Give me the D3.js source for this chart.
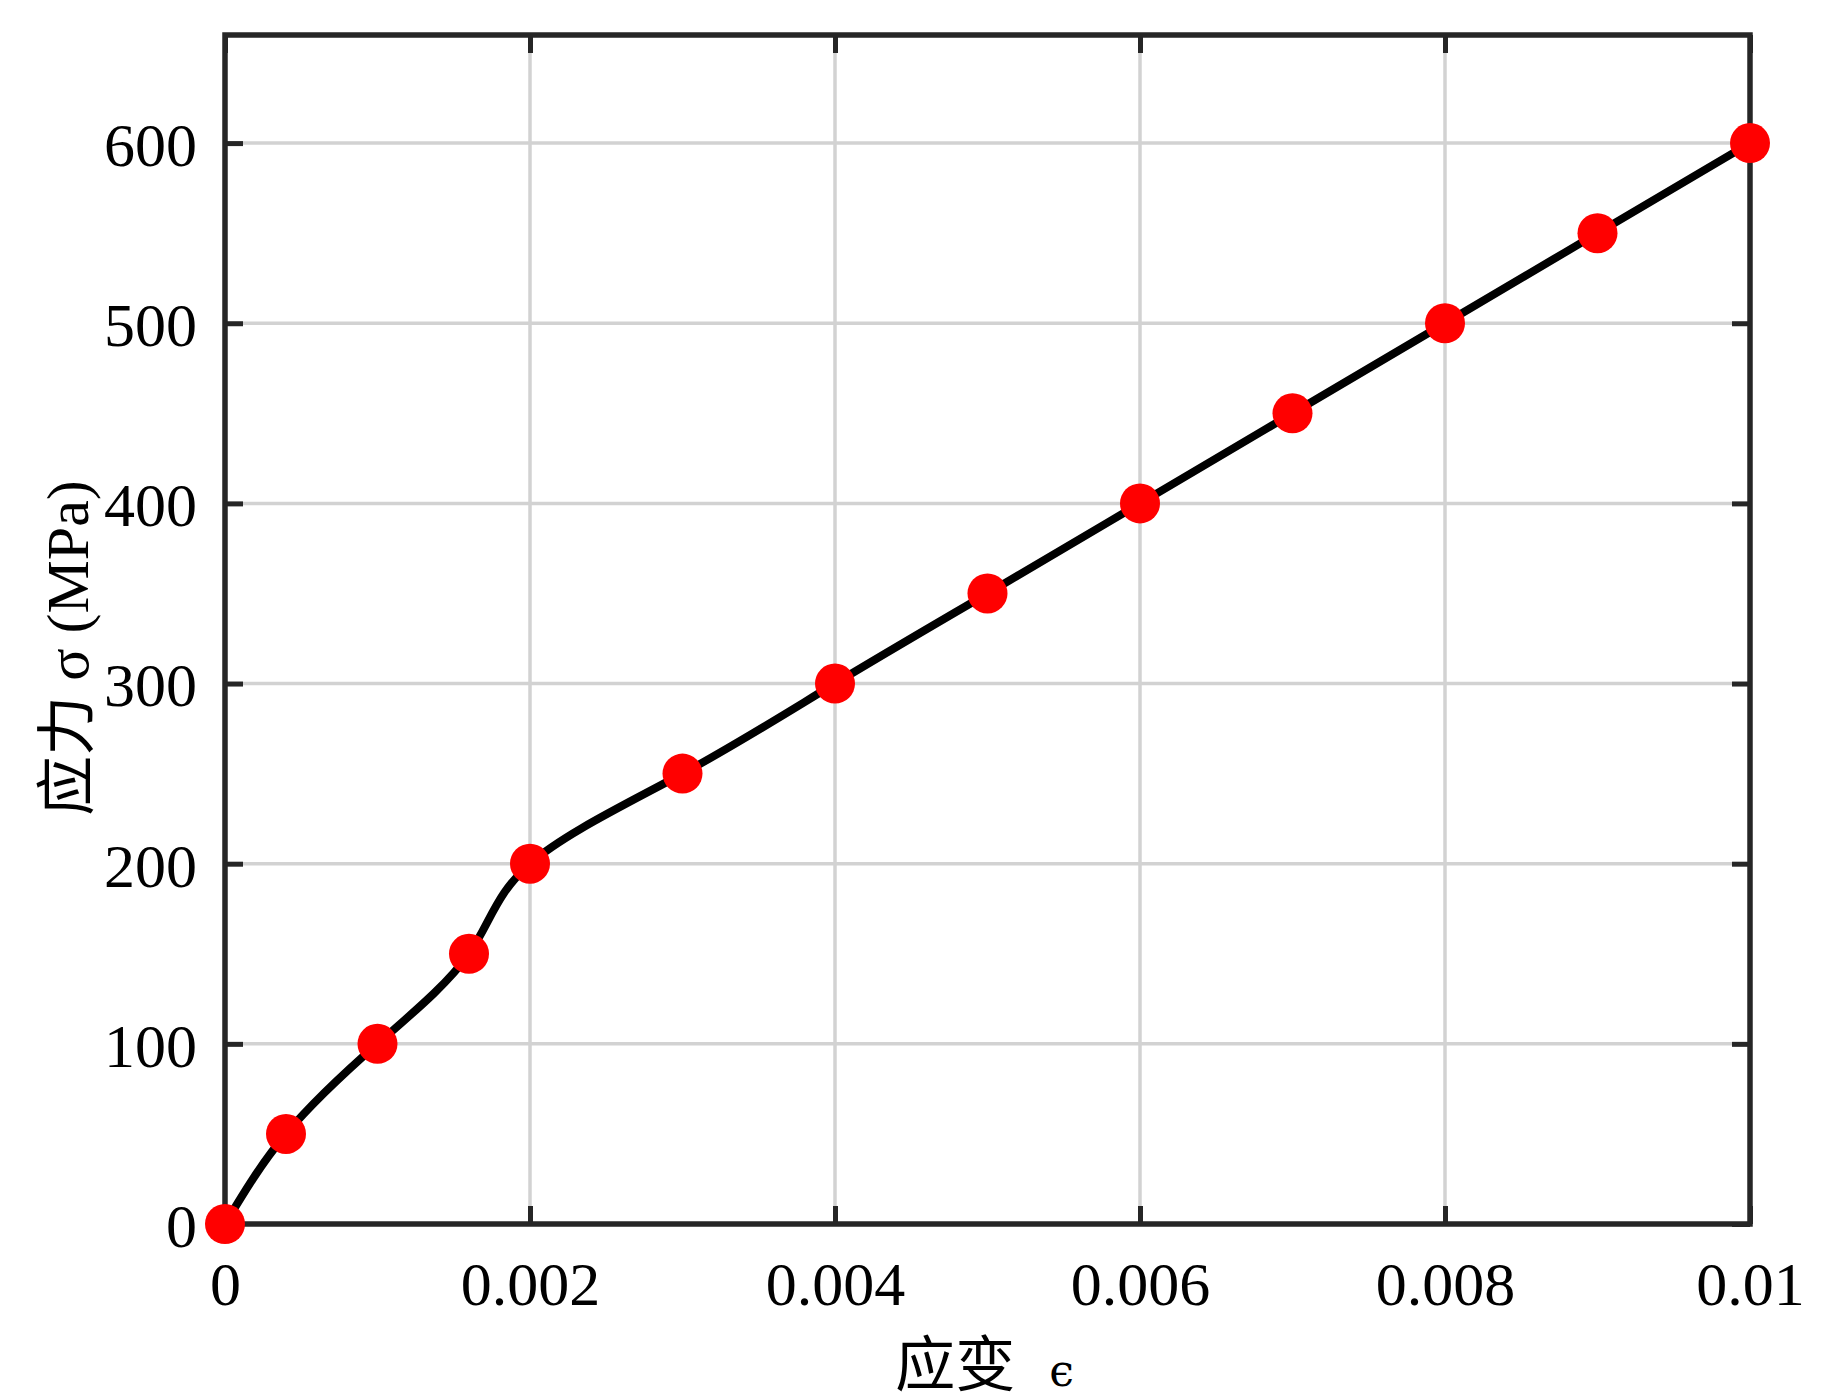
<!DOCTYPE html>
<html>
<head>
<meta charset="utf-8">
<script src="https://cdn.jsdelivr.net/npm/d3@7"></script>
<style>
  body { margin: 0; background: #fff; }
  text { font-family: "Liberation Serif", "Noto Sans CJK SC", serif; fill: #000; }
</style>
</head>
<body>
<script>
// stress-strain data
var strain = [0, 0.0004, 0.001, 0.0016, 0.002, 0.003, 0.004, 0.005, 0.006, 0.007, 0.008, 0.009, 0.01];
var stress = [0, 50, 100, 150, 200, 250, 300, 350, 400, 450, 500, 550, 600];

// axis ticks
var xTicks = [0, 0.002, 0.004, 0.006, 0.008, 0.01];
var xTickLabels = ["0", "0.002", "0.004", "0.006", "0.008", "0.01"];
var yTicks = [0, 100, 200, 300, 400, 500, 600];
var yTickLabels = ["0", "100", "200", "300", "400", "500", "600"];

// chart size (plot box edges)
var width = 1821;
var height = 1400;
var boxLeft = 225, boxRight = 1750, boxTop = 35, boxBottom = 1224;

var svg = d3.select("body")
            .append("svg")
            .attr("width", width)
            .attr("height", height);

var xScale = d3.scaleLinear()
               .domain([0, 0.01])
               .range([boxLeft, boxRight]);
var yScale = d3.scaleLinear()
               .domain([0, 660])
               .range([boxBottom, boxTop]);

// grid lines
svg.append("g")
   .selectAll("line")
   .data(xTicks.slice(1, -1))
   .enter()
   .append("line")
   .attr("x1", function(d) { return xScale(d); })
   .attr("x2", function(d) { return xScale(d); })
   .attr("y1", boxTop)
   .attr("y2", boxBottom)
   .attr("stroke", "#d2d2d2")
   .attr("stroke-width", 3.5);

svg.append("g")
   .selectAll("line")
   .data(yTicks.slice(1))
   .enter()
   .append("line")
   .attr("x1", boxLeft)
   .attr("x2", boxRight)
   .attr("y1", function(d) { return yScale(d); })
   .attr("y2", function(d) { return yScale(d); })
   .attr("stroke", "#d2d2d2")
   .attr("stroke-width", 3.5);

// axes with inward ticks, mirrored on top and right
function styleAxis(g) {
  g.selectAll(".domain").remove();
  g.selectAll(".tick line").attr("stroke", "#262626").attr("stroke-width", 5);
}

var xAxe = d3.axisBottom(xScale)
             .tickValues(xTicks)
             .tickSize(-18)
             .tickFormat(function(d, i) { return xTickLabels[i]; });
svg.append("g")
   .attr("transform", "translate(" + [0, boxBottom] + ")")
   .call(xAxe)
   .call(styleAxis)
   .selectAll("text")
   .attr("y", 81)
   .attr("dy", 0)
   .style("font-size", "62px");

svg.append("g")
   .attr("transform", "translate(" + [0, boxTop] + ")")
   .call(d3.axisTop(xScale).tickValues(xTicks).tickSize(-18).tickFormat(""))
   .call(styleAxis);

var yAxe = d3.axisLeft(yScale)
             .tickValues(yTicks)
             .tickSize(-18)
             .tickFormat(function(d, i) { return yTickLabels[i]; });
svg.append("g")
   .attr("transform", "translate(" + [boxLeft, 0] + ")")
   .call(yAxe)
   .call(styleAxis)
   .selectAll("text")
   .attr("x", -28)
   .attr("dy", "0.36em")
   .style("font-size", "62px");

svg.append("g")
   .attr("transform", "translate(" + [boxRight, 0] + ")")
   .call(d3.axisRight(yScale).tickValues(yTicks).tickSize(-18).tickFormat(""))
   .call(styleAxis);

// frame
svg.append("rect")
   .attr("x", boxLeft)
   .attr("y", boxTop)
   .attr("width", boxRight - boxLeft)
   .attr("height", boxBottom - boxTop)
   .attr("fill", "none")
   .attr("stroke", "#262626")
   .attr("stroke-width", 5.5);

// smooth curve
var points = strain.map(function(s, i) { return [s, stress[i]]; });
var line = d3.line()
             .x(function(d) { return xScale(d[0]); })
             .y(function(d) { return yScale(d[1]); })
             .curve(d3.curveNatural);

svg.append("path")
   .datum(points)
   .attr("d", line)
   .attr("fill", "none")
   .attr("stroke", "#000")
   .attr("stroke-width", 8)
   .attr("stroke-linejoin", "round");

svg.selectAll("circle")
   .data(points)
   .enter()
   .append("circle")
   .attr("cx", function(d) { return xScale(d[0]); })
   .attr("cy", function(d) { return yScale(d[1]); })
   .attr("r", 20)
   .attr("fill", "#ff0000");

// x label
var xLabel = svg.append("text")
   .attr("x", (boxLeft + boxRight) / 2 - 3)
   .attr("y", 1386)
   .attr("text-anchor", "middle");
xLabel.append("tspan")
   .style("font-size", "60px")
   .text("应变");
xLabel.append("tspan")
   .attr("dx", 34)
   .style("font-size", "44px")
   .style("font-family", "'DejaVu Serif', serif")
   .text("ϵ");

// y label
svg.append("text")
   .attr("text-anchor", "middle")
   .attr("transform", "translate(" + [88, 648] + ") rotate(-90)")
   .style("font-size", "60px")
   .text("应力 σ (MPa)");
</script>
</body>
</html>
